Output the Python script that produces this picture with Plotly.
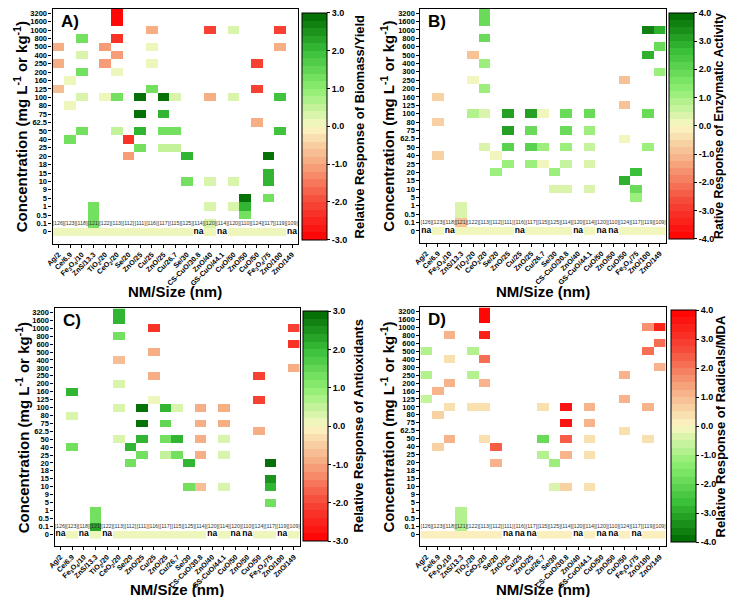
import plotly.graph_objects as go

# column labels (NM/size) and reference numbers shown in the 0.1 row
NM_LABELS = ["Ag/2", "Ce/6.9", "Fe<sub>3</sub>O<sub>4</sub>/10", "ZnS/13.3",
             "TiO<sub>2</sub>/20", "CeO<sub>2</sub>/20", "Se/20", "ZnO/25", "Cu/25",
             "ZnO/25", "Cu/26.7", "Se/30", "CS-CuO/30.8", "ZnO/40", "GS-CuO/44.1",
             "CuO/50", "ZnO/50", "CuO/50", "Fe<sub>3</sub>O<sub>4</sub>/75",
             "ZnO/100", "ZnO/149"]
REFS = ["[126]", "[123]", "[118]", "[121]", "[122]", "[113]", "[112]", "[111]",
        "[116]", "[117]", "[115]", "[125]", "[114]", "[120]", "[114]", "[120]",
        "[110]", "[124]", "[117]", "[119]", "[109]"]

# concentration rows, bottom to top
ROWS_A = ["0", "0.1", "0.5", "1", "5", "9", "10", "15", "18", "20", "25", "40", "50",
          "62.5", "75", "80", "100", "125", "160", "200", "250", "400", "500", "800",
          "1000", "1600", "3200"]
ROWS_B = ["0", "0.1", "0.5", "1", "5", "10", "15", "20", "25", "40", "50", "62.5",
          "75", "80", "100", "125", "160", "200", "250", "300", "400", "500", "600",
          "800", "1000", "1600", "3200"]
ROWS_C = ["0", "0.1", "0.5", "1", "5", "9", "10", "15", "18", "20", "25", "40", "50",
          "62.5", "75", "80", "100", "125", "160", "200", "250", "300", "400", "500",
          "600", "800", "1000", "1600", "3200"]
ROWS_D = ROWS_C

# cells: (column, concentration, relative response)
A_CELLS = [
    (0, "500", -1.0), (0, "250", -1.0), (0, "125", -0.8),
    (1, "160", 0.2), (1, "80", 0.2), (1, "40", 1.2),
    (2, "800", 1.3), (2, "400", 0.3), (2, "200", 1.3), (2, "100", 0.3), (2, "50", 1.2),
    (3, "1", 1.3), (3, "0.5", 1.3), (3, "0.1", 1.3),
    (4, "500", -1.1), (4, "250", -1.1), (4, "100", 0.2),
    (5, "3200", -3.0), (5, "1600", -3.0), (5, "800", -2.3), (5, "400", -1.1),
    (5, "200", 0.2), (5, "100", 1.2), (5, "50", 0.4),
    (6, "40", -2.4), (6, "20", -1.1),
    (7, "100", 2.9), (7, "75", 2.9), (7, "50", 2.0), (7, "25", 1.3),
    (8, "1000", -1.0), (8, "500", 0.2), (8, "250", 0.2), (8, "125", 1.2),
    (9, "100", 2.8), (9, "75", 2.0), (9, "50", 1.3), (9, "25", 0.4),
    (10, "100", 0.3), (10, "50", 1.3), (10, "25", 0.4),
    (11, "20", 2.0), (11, "10", 1.3),
    (13, "1000", -2.2), (13, "100", -1.0), (13, "10", 0.3), (13, "1", 0.3), (13, "0.1", 0.3),
    (15, "1000", 0.3), (15, "100", 0.3), (15, "10", 0.3), (15, "1", 0.3),
    (16, "5", 2.9), (16, "1", 2.0), (16, "0.5", 1.3),
    (17, "250", -2.2), (17, "125", -2.2), (17, "62.5", -1.0),
    (18, "20", 2.9), (18, "15", 2.0), (18, "10", 2.0), (18, "5", 1.3),
    (19, "1000", -2.2), (19, "500", -1.0), (19, "100", 1.9), (19, "50", 1.9),
]
B_CELLS = [
    (1, "160", -0.7), (1, "80", -0.6), (1, "40", -0.7),
    (3, "1", 0.4), (3, "0.5", 0.4), (3, "0.1", -1.0),
    (4, "500", -1.0), (4, "250", 0.2), (4, "100", 0.9),
    (5, "3200", 1.8), (5, "1600", 1.8), (5, "800", 1.8), (5, "400", 1.0),
    (5, "200", 1.0), (5, "100", 0.3), (5, "50", 0.3),
    (6, "40", 0.2), (6, "20", 1.0),
    (7, "100", 3.1), (7, "75", 3.2), (7, "50", 2.0), (7, "25", 1.0),
    (9, "100", 3.1), (9, "75", 1.8), (9, "50", 2.0), (9, "25", 1.0),
    (10, "100", 0.2), (10, "50", 1.0), (10, "25", 0.2),
    (11, "20", 1.0), (11, "10", 0.3),
    (12, "100", 1.8), (12, "75", 1.8), (12, "50", 1.0), (12, "25", 0.5), (12, "10", 0.3),
    (14, "100", 1.8), (14, "75", 1.0), (14, "50", 0.5), (14, "25", 0.3), (14, "10", 0.3),
    (17, "250", -0.8), (17, "125", -0.8), (17, "62.5", 0.2), (17, "15", 2.8),
    (18, "20", 2.6), (18, "10", 1.8), (18, "5", 1.0),
    (19, "1000", 3.7), (19, "500", 2.8), (19, "100", 1.8), (19, "50", 1.0),
    (20, "1000", 2.8), (20, "600", 1.8), (20, "300", 1.0),
]
C_CELLS = [
    (1, "160", 2.0), (1, "80", 0.3), (1, "40", 1.2),
    (3, "1", 1.3), (3, "0.5", 1.3), (3, "0.1", 2.2),
    (5, "3200", 2.0), (5, "1600", 2.0), (5, "800", 1.2), (5, "400", -0.6),
    (5, "200", 0.3), (5, "100", 0.3), (5, "50", 0.3),
    (6, "40", 2.1), (6, "20", 1.3),
    (7, "100", 2.9), (7, "75", 2.9), (7, "50", 2.1), (7, "25", 1.3),
    (8, "1000", -2.3), (8, "500", -1.0), (8, "250", -1.0), (8, "125", 0.2),
    (9, "100", 2.0), (9, "75", 1.6), (9, "50", 1.2), (9, "25", 0.4),
    (10, "100", 0.3), (10, "50", 2.0), (10, "25", 1.2),
    (11, "20", 2.1), (11, "10", 1.3),
    (12, "100", -0.9), (12, "75", -0.9), (12, "50", -0.9), (12, "25", -0.9), (12, "10", -0.6),
    (14, "100", -0.9), (14, "75", -0.9), (14, "50", 0.3), (14, "25", 0.3), (14, "10", 0.3),
    (17, "250", -2.2), (17, "125", -2.2), (17, "62.5", -1.0),
    (18, "20", 2.9), (18, "15", 2.5), (18, "10", 2.1), (18, "5", 1.3),
    (20, "1000", -2.2), (20, "600", -2.3), (20, "300", -1.0),
]
D_CELLS = [
    (0, "500", -0.8), (0, "250", -0.8), (0, "125", -0.7),
    (1, "160", 1.0), (1, "80", 0.7), (1, "40", 0.6),
    (2, "800", 1.0), (2, "400", 0.3), (2, "200", 1.0), (2, "100", 0.3), (2, "50", 1.0),
    (3, "1", -0.8), (3, "0.5", -0.8), (3, "0.1", -0.8),
    (4, "500", -0.9), (4, "250", -0.9), (4, "100", 0.3),
    (5, "3200", 4.0), (5, "1600", 4.0), (5, "800", 3.4), (5, "400", 2.2),
    (5, "200", 1.1), (5, "100", 0.3), (5, "50", 0.3),
    (6, "40", 2.3), (6, "20", 1.1),
    (10, "100", 0.3), (10, "50", -2.0), (10, "25", -0.9),
    (11, "20", -1.1), (11, "10", -0.5),
    (12, "100", 3.5), (12, "75", 3.5), (12, "50", 2.4), (12, "25", 1.1), (12, "10", 0.6),
    (14, "100", 1.0), (14, "75", 1.0), (14, "50", 0.3), (14, "25", 0.3), (14, "10", 0.3),
    (17, "250", 1.0), (17, "125", 1.0), (17, "62.5", 0.3),
    (19, "1000", 1.6), (19, "500", 2.2), (19, "100", 1.0), (19, "50", 0.3),
    (20, "1000", 3.3), (20, "600", 2.2), (20, "300", 1.0),
]

# columns with no data in the "0" row
A_NA = [12, 14, 20]
B_NA = [0, 2, 8, 13, 15, 16]
C_NA = [0, 2, 4, 13, 15, 16, 19]
D_NA = [7, 8, 9, 13, 15, 16, 18]

# the page body keeps its default 8px margin, so the figure is drawn 8px in
PAD = 8
W, H = 738 - 2 * PAD, 605 - 2 * PAD
FONT = "Liberation Sans"

# red -> pale yellow -> green
RYG = [(255, 0, 0), (246, 72, 56), (246, 166, 126), (250, 247, 196),
       (140, 238, 112), (56, 190, 56), (0, 104, 0)]


def stepped(anchors, n):
    """Build a banded colorscale like the Origin contour fill."""
    out = []
    k = len(anchors) - 1
    for i in range(n):
        t = (i + 0.5) / n * k
        j = min(int(t), k - 1)
        f = t - j
        c = [round(anchors[j][m] + (anchors[j + 1][m] - anchors[j][m]) * f) for m in range(3)]
        col = "rgb(%d,%d,%d)" % tuple(c)
        out.append([i / n, col])
        out.append([(i + 1) / n, col])
    return out


def build_z(rows, cells, na):
    z = [[None] * len(NM_LABELS) for _ in rows]
    for c in range(len(NM_LABELS)):
        if c not in na:
            z[0][c] = 0.0
    for c, r, v in cells:
        z[rows.index(r)][c] = v
    return z


def px_x(p):
    # page pixel -> paper fraction
    return min(max((p - PAD) / W, 0), 1)


def px_y(p):
    return min(max(1 - (p - PAD) / H, 0), 1)


panels = [
    dict(key="A", rows=ROWS_A, cells=A_CELLS, na=A_NA, lim=3,
         scale=stepped(RYG, 30), title="Relative Response of Biomass/Yield",
         x0=45, x1=293, y0=8, y1=243, cbx=297, cby0=12, cby1=239, xt=291, ctx=355, tf=13),
    dict(key="B", rows=ROWS_B, cells=B_CELLS, na=B_NA, lim=4,
         scale=stepped(RYG, 32), title="Rative Response of Enzymatic Activity",
         x0=417, x1=665, y0=8, y1=242, cbx=668, cby0=12, cby1=238, xt=291, ctx=719, tf=12.3),
    dict(key="C", rows=ROWS_C, cells=C_CELLS, na=C_NA, lim=3,
         scale=stepped(RYG, 30), title="Relative Response of Antioxidants",
         x0=47, x1=295, y0=308, y1=546, cbx=298, cby0=311, cby1=541, xt=589, ctx=354, tf=13),
    dict(key="D", rows=ROWS_D, cells=D_CELLS, na=D_NA, lim=4,
         scale=stepped(RYG[::-1], 32), title="Relative Response of Radicals/MDA",
         x0=417, x1=665, y0=307, y1=546, cbx=670, cby0=310, cby1=542, xt=589, ctx=720, tf=13),
]

fig = go.Figure()
annotations = []

for i, p in enumerate(panels):
    n = "" if i == 0 else str(i + 1)
    xa, ya = "x" + n, "y" + n
    lim = p["lim"]

    fig.add_trace(go.Heatmap(
        x=list(range(len(NM_LABELS))), y=p["rows"],
        z=build_z(p["rows"], p["cells"], p["na"]),
        zmin=-lim, zmax=lim, colorscale=p["scale"], xaxis=xa, yaxis=ya,
        hoverongaps=False,
        colorbar=dict(
            x=px_x(p["cbx"]), xanchor="left", xpad=0, ypad=0,
            y=(px_y(p["cby0"]) + px_y(p["cby1"])) / 2, yanchor="middle",
            len=(p["cby1"] - p["cby0"]) / H, lenmode="fraction",
            thickness=25, outlinecolor="black", outlinewidth=1,
            tickmode="array", tickvals=list(range(-lim, lim + 1)),
            ticktext=["%.1f" % v for v in range(-lim, lim + 1)],
            ticks="outside", ticklen=3, tickcolor="black",
            ticklabeloverflow="allow",
            tickfont=dict(family=FONT, size=9, color="black", weight="bold"),
        ),
    ))

    # reference numbers and "na" markers
    fig.add_trace(go.Scatter(
        x=list(range(len(REFS))), y=["0.1"] * len(REFS), text=REFS, mode="text",
        textfont=dict(family=FONT, size=5.3, color="#333333"),
        xaxis=xa, yaxis=ya, hoverinfo="skip", showlegend=False))
    fig.add_trace(go.Scatter(
        x=p["na"], y=["0"] * len(p["na"]), text=["na"] * len(p["na"]), mode="text",
        textfont=dict(family=FONT, size=8.5, color="black", weight="bold"),
        xaxis=xa, yaxis=ya, hoverinfo="skip", showlegend=False))

    fig.layout["xaxis" + n] = dict(
        domain=[px_x(p["x0"]), px_x(p["x1"])], anchor=ya,
        range=[-0.5, len(NM_LABELS) - 0.5],
        tickmode="array", tickvals=list(range(len(NM_LABELS))), ticktext=NM_LABELS,
        tickangle=-45, ticks="outside", ticklen=3, tickcolor="black",
        tickfont=dict(family=FONT, size=7.2, color="black", weight="bold"),
        showline=True, linecolor="black", linewidth=1.2, mirror=True,
        showgrid=False, zeroline=False)
    fig.layout["yaxis" + n] = dict(
        domain=[px_y(p["y1"]), px_y(p["y0"])], anchor=xa,
        type="category", categoryorder="array", categoryarray=p["rows"],
        tickmode="array", tickvals=p["rows"], ticktext=p["rows"],
        ticks="outside", ticklen=3, tickcolor="black",
        tickfont=dict(family=FONT, size=7.5, color="black", weight="bold"),
        showline=True, linecolor="black", linewidth=1.2, mirror=True,
        showgrid=False, zeroline=False)

    annotations.append(dict(
        text="<b>%s)</b>" % p["key"], xref="paper", yref="paper",
        x=px_x(p["x0"] + 6), y=px_y(p["y0"] + 1), xanchor="left", yanchor="top",
        showarrow=False, font=dict(family=FONT, size=17, color="black")))
    annotations.append(dict(
        text="<b>NM/Size (nm)</b>", xref="paper", yref="paper",
        x=px_x((p["x0"] + p["x1"]) / 2), y=px_y(p["xt"]), xanchor="center",
        yanchor="middle", showarrow=False,
        font=dict(family=FONT, size=15, color="black")))
    annotations.append(dict(
        text="<b>Concentration (mg L<sup>-1</sup> or kg<sup>-1</sup>)</b>",
        xref="paper", yref="paper", x=px_x(p["x0"] - 33),
        y=px_y((p["y0"] + p["y1"]) / 2), xanchor="center", yanchor="middle",
        textangle=-90, showarrow=False,
        font=dict(family=FONT, size=15, color="black")))
    # colorbar title, placed by hand so it sits close to the bar
    annotations.append(dict(
        text="<b>%s</b>" % p["title"], xref="paper", yref="paper",
        x=px_x(p["ctx"]), y=px_y((p["cby0"] + p["cby1"]) / 2),
        xanchor="center", yanchor="middle", textangle=-90, showarrow=False,
        font=dict(family=FONT, size=p["tf"], color="black")))

fig.update_layout(
    width=W, height=H, margin=dict(l=0, r=0, t=0, b=0),
    paper_bgcolor="white", plot_bgcolor="white",
    showlegend=False, annotations=annotations,
)

fig.write_html("out.html")
